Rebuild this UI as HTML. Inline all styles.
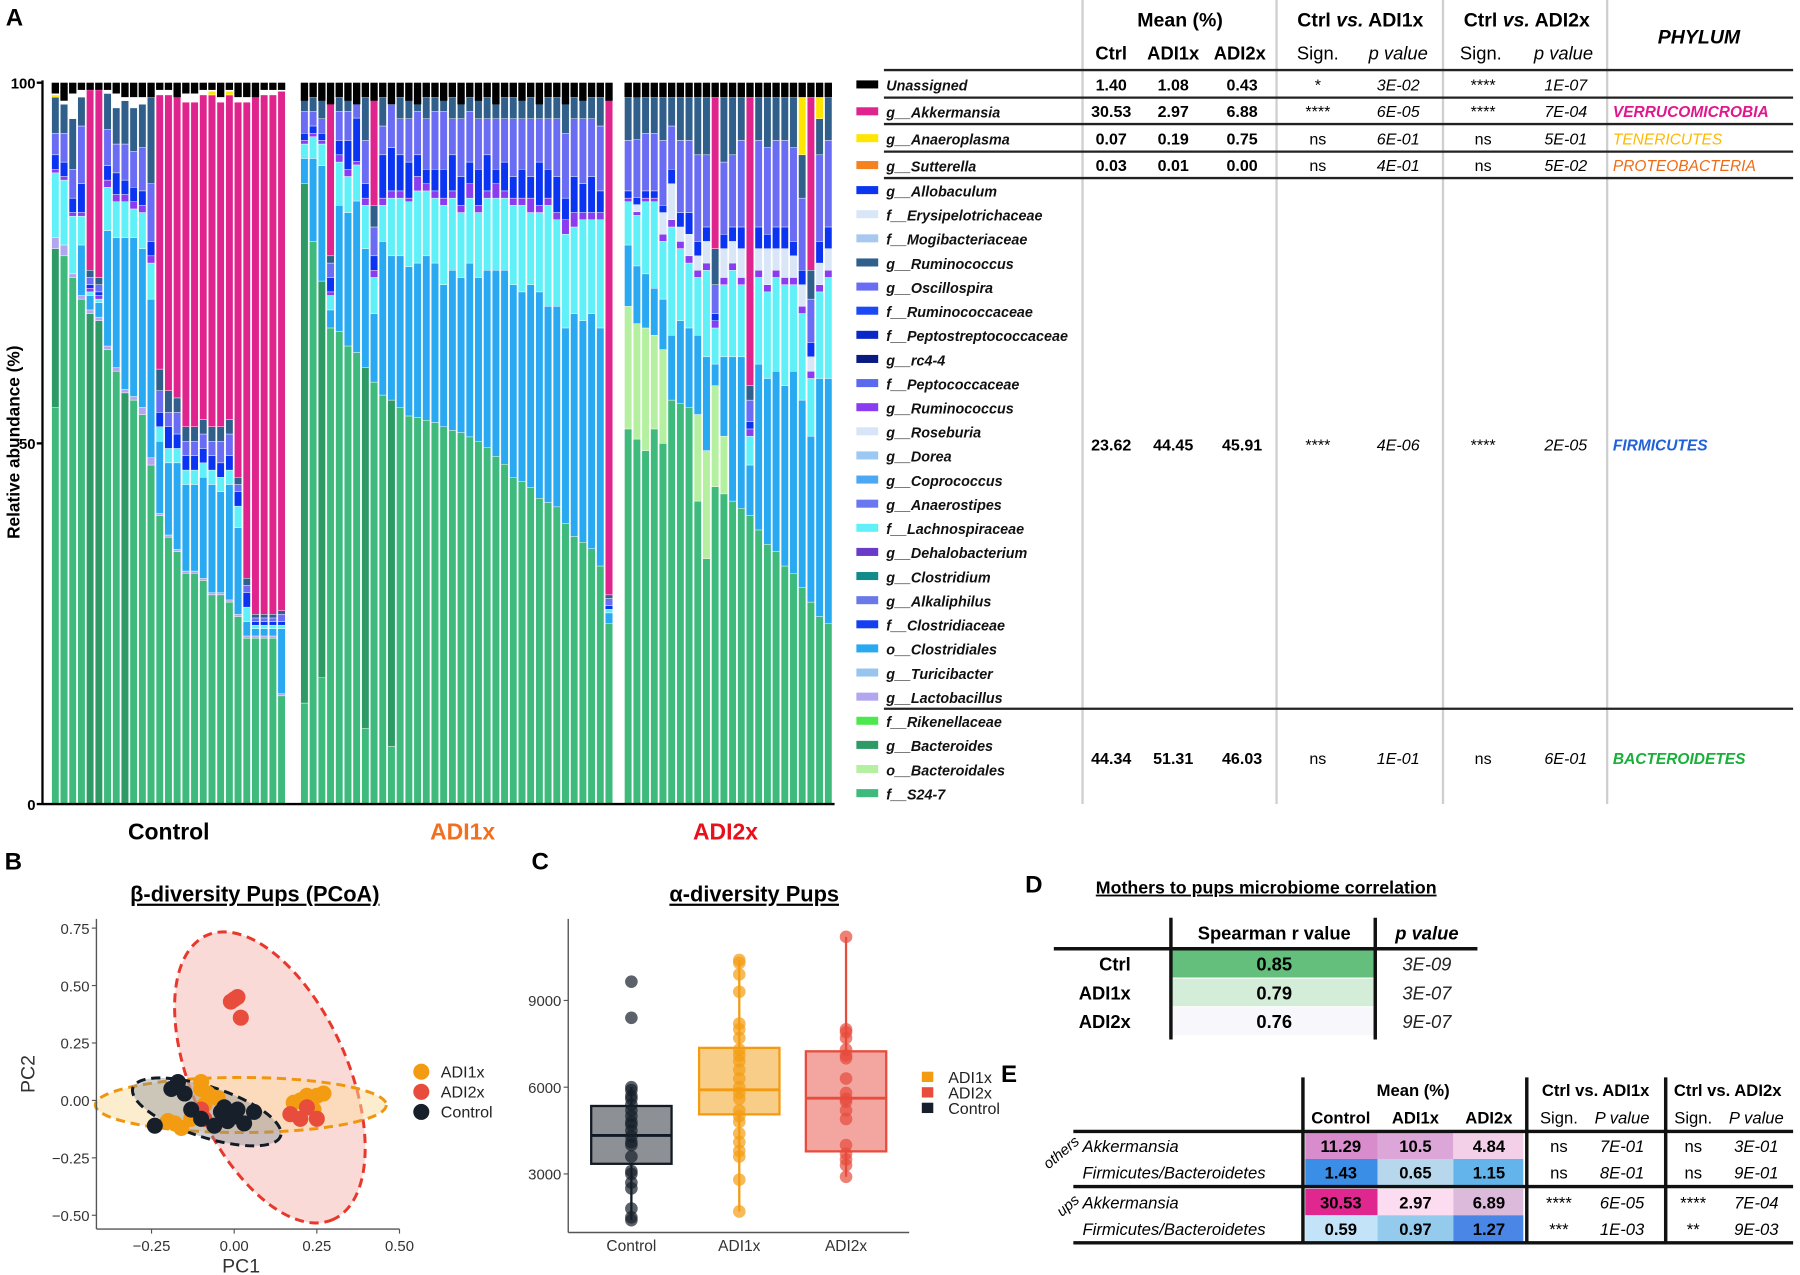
<!DOCTYPE html>
<html><head><meta charset="utf-8">
<style>
html,body{margin:0;padding:0;background:#fff;}
svg{display:block;font-family:"Liberation Sans",sans-serif;}
</style></head>
<body>
<svg id="fig" xmlns="http://www.w3.org/2000/svg" width="1800" height="1275" viewBox="0 0 1568 1110" preserveAspectRatio="none">
<rect x="0" y="0" width="1568" height="1110" fill="#fff"/>
<text x="5" y="22" font-size="21" font-weight="bold">A</text>
<text x="4" y="757" font-size="21" font-weight="bold">B</text>
<text x="463" y="757" font-size="21" font-weight="bold">C</text>
<text x="893" y="777" font-size="21" font-weight="bold">D</text>
<text x="872" y="942" font-size="21" font-weight="bold">E</text>

<g id="barchart"></g>
<text transform="translate(17,385) rotate(-90)" text-anchor="middle" font-size="15" font-weight="bold">Relative abundance (%)</text>
<text x="147" y="731" text-anchor="middle" font-size="20" font-weight="bold">Control</text>
<text x="403" y="731" text-anchor="middle" font-size="20" font-weight="bold" fill="#f07020">ADI1x</text>
<text x="632" y="731" text-anchor="middle" font-size="20" font-weight="bold" fill="#e8101a">ADI2x</text>

<g id="tableA" font-family="Liberation Sans, sans-serif">
  <line x1="943" y1="0" x2="943" y2="700" stroke="#cfcfcf" stroke-width="2"/>
  <line x1="1112" y1="0" x2="1112" y2="700" stroke="#cfcfcf" stroke-width="2"/>
  <line x1="1257" y1="0" x2="1257" y2="700" stroke="#cfcfcf" stroke-width="2"/>
  <line x1="1400" y1="0" x2="1400" y2="700" stroke="#cfcfcf" stroke-width="2"/>
  <g stroke="#222" stroke-width="2">
    <line x1="770" y1="61" x2="1562" y2="61"/>
    <line x1="770" y1="85" x2="1562" y2="85"/>
    <line x1="770" y1="108" x2="1562" y2="108"/>
    <line x1="770" y1="132" x2="1562" y2="132"/>
    <line x1="770" y1="155" x2="1562" y2="155"/>
    <line x1="770" y1="617" x2="1562" y2="617"/>
  </g>
  <text x="1028" y="23" text-anchor="middle" font-size="17" font-weight="bold">Mean (%)</text>
  <text x="968" y="52" text-anchor="middle" font-size="16" font-weight="bold">Ctrl</text>
  <text x="1022" y="52" text-anchor="middle" font-size="16" font-weight="bold">ADI1x</text>
  <text x="1080" y="52" text-anchor="middle" font-size="16" font-weight="bold">ADI2x</text>
  <text x="1185" y="23" text-anchor="middle" font-size="17" font-weight="bold">Ctrl <tspan font-style="italic">vs.</tspan> ADI1x</text>
  <text x="1148" y="52" text-anchor="middle" font-size="16">Sign.</text>
  <text x="1218" y="52" text-anchor="middle" font-size="16" font-style="italic">p value</text>
  <text x="1330" y="23" text-anchor="middle" font-size="17" font-weight="bold">Ctrl <tspan font-style="italic">vs.</tspan> ADI2x</text>
  <text x="1290" y="52" text-anchor="middle" font-size="16">Sign.</text>
  <text x="1362" y="52" text-anchor="middle" font-size="16" font-style="italic">p value</text>
  <text x="1480" y="38" text-anchor="middle" font-size="17" font-weight="bold" font-style="italic">PHYLUM</text>
</g>
<g id="legendA"></g>
<g id="rowsA"></g>

<text x="222" y="785" text-anchor="middle" font-size="19" font-weight="bold" text-decoration="underline">β-diversity Pups (PCoA)</text>
<g id="pcoa"></g>

<text x="657" y="785" text-anchor="middle" font-size="19" font-weight="bold" text-decoration="underline">α-diversity Pups</text>
<g id="alpha"></g>

<g id="tableD"></g>
<g id="tableE"></g>
</svg>

<script>
const NS = 'http://www.w3.org/2000/svg';
function mk(tag, attrs, parent, txt) {
  const e = document.createElementNS(NS, tag);
  for (const k in attrs) e.setAttribute(k, attrs[k]);
  if (txt !== undefined) e.textContent = txt;
  parent.appendChild(e);
  return e;
}

/* ================= PANEL A DATA ================= */
const seriesKeys = ['s24','bact','bacto','lacto','clost','lachno','dehalo','erys','allob','osc','rum','akk','anaero'];
const ctrlS24 = [55,76,73,70,0,0,63,60,0,56,54,47,40,37,35,32,32,31,29,29,28,26,23,23,23,23,15];
const ctrlBact = [22,0,0,0,68,67,0,0,57,0,0,0,0,0,0,0,0,0,0,0,0,0,0,0,0,0,0];
const ctrlLacto = [1.5,1.5,0.5,0.5,0.5,0.5,0.5,0.5,0.5,0.5,1,1,0.3,0.3,0.3,0.3,0.3,0.3,0.3,0.3,0.3,0.3,0.3,0.3,0.3,0.3,0.3];
const ctrlClost = [0,0,0,7,2,2,16,18,21,22,22,22,10,10,12,12,12,14,15,14,16,12,2,1,1,1,9];
const ctrlLachno = [9,9,8,4,0.5,0.5,6,5,5,4,5,5,2,2,2,2,2,2,2,2,2,3,2,0.5,0.5,0.5,0.5];
const ctrlDehalo = [0.5,0.5,0.5,0.5,0.5,0.5,1,1,1,1,1,1,0,0,0,0,0,0,0,0,0,0,0,0,0,0,0];
const ctrlAllob = [2,2,2,4,0.5,0.5,2,3,2,2,2,2,2,3,2,2,2,2,2,2,2,2,2,0.5,0.5,0.5,0.5];
const ctrlOsc = [3,4,4,8,1,1,5,4,5,5,6,8,3,2,3,2,2,2,2,3,3,1,1,0.5,0.5,0.5,1];
const ctrlRum = [5,4,7,4,1,1,5,5,6,6,6,12,3,3,2,2,2,2,2,2,2,1,1,0.5,0.5,0.5,0.5];
const ctrlAkk = [0,0,0,0,25,26,0,0,0,0,0,0,38,41,42,45,45,45,46,45,45,52,66,72,72,72,72];
const ctrlAnaero = [0.3,0,0,0,0,0,0,0,0,0,0,0,0,0,0,0,0,0,0.5,0,0.5,0,0,0,0,0,0];
const ctrlUnass = [1.5,2.5,1.5,1,1,1,1,1.5,2,2,2,2,1,1,2,1.5,1.5,1,1,2,1,2,2,2,1,1,1];

const adi1S24 = [14,78,17.5,66,65.5,63.5,62.6,10.5,58.5,56.7,8,55,53.8,53.6,53.2,52.9,52.3,51.8,51.5,50.9,50.3,49.4,48.2,47.1,45.3,44.7,43.9,42.4,41.8,41.2,38.9,37.1,36.3,35.4,33,25];
const adi1Bact = [72,0,55,0,0,0,0,50,0,0,48,0,0,0,0,0,0,0,0,0,0,0,0,0,0,0,0,0,0,0,0,0,0,0,0,0];
const adi1Clost = [3.5,11.5,16,2.5,17.5,18.5,21,16.5,9.5,21.3,20,21,20.7,21.4,22.8,22.1,19.7,22.2,21.5,24.1,22.7,24.6,25.8,26.9,26.7,26.3,28.1,28.6,27.2,27.8,27.1,30.9,30.7,32.6,33,1.5];
const adi1Lachno = [2,3,3,2,6,5,5,6,5,5,8,8,9,10,9,9,11,10,9,9,9,10,10,10,11,12,10,11,14,12,13,12,14,13,15,0.5];
const adi1Dehalo = [0.5,0.5,0.5,0.5,1,1,0.5,1,1,1,1,1,0.5,2,1,1,1,1,1,2,1,1,2,1,1,1,2,1,1,1,2,2,1,1,1,0];
const adi1Allob = [1,1,1,2,2,4,6,2,2,6,6,5,5,3,2,3,4,5,4,3,5,5,2,4,3,4,3,6,4,5,3,5,4,5,3,0.5];
const adi1Osc = [3,2,2,2,4,4,2,6,4,4,6,5,6,6,7,8,8,5,8,7,7,5,7,6,8,7,8,6,7,8,9,8,9,8,9,1];
const adi1Rum = [2,2,3,1,2,2,1,6,3,4,1,3,3,2,3,2,2,3,3,2,3,3,3,3,3,3,3,3,3,3,5,3,3,3,4,0.5];
const adi1Akk = [0,0,0,22,0,0,0,0,15,0,0,0,0,0,0,0,0,0,0,0,0,0,0,0,0,0,0,0,0,0,0,0,0,0,0,69];
const adi1Anaero = [0,0,0,0,0,0,0,0,1,0,1,0,0,1,0,0,0,0,0,0,0,0,0,0,0,0,0,0,0,0,0,0,1,0,0,0];
const adi1Unass = [2.5,2,2.5,3,2,2.5,3,2,2.5,2,3,2,2.5,3,2,2,2.5,2,3,2,2.5,2,3,2,2,2.5,2,3,2,2,3,2,2.5,2,2,2.5];

const adi2S24 = [52,50.6,49,52,50,56,55.5,55,42,34,44,43,42,41,40,38,36,35,33,32,30,28,26,25];
const adi2Bacto = [17,16,17,13,13,0,0,0,12,15,14,8,0,0,0,0,0,0,0,0,0,0,0,0];
const adi2Clost = [8.5,8,7.5,6.5,7,9,11.5,11,11,13,3,11,20,21,7,23,23,25,25,28,26,23,33,34];
const adi2Lachno = [6,7,10,12,8,15,10,9,8,12,5,10,12,10,4,12,12,13,14,12,12,8,12,14];
const adi2Dehalo = [0.5,0.5,0.5,0.5,1,1,1,1,1,1,1,1,1,1,1,1,1,1,1,1,1,1,1,1];
const adi2Erys = [0,1,0,0,3,5,2,3,2,3,0,4,3,4,0,3,5,3,4,3,3,2,3,3];
const adi2Allob = [1,1,1,1,1,2,2,3,2,2,1,2,2,3,1,3,2,3,3,2,2,2,3,3];
const adi2Osc = [7,8,8,8,9,6,10,10,12,10,4,10,10,12,3,12,12,12,12,13,10,6,12,12];
const adi2Rum = [6,6,5,5,6,4,6,6,8,8,5,9,8,6,2,6,7,6,6,7,6,4,5,6];
const adi2Akk = [0,0,0,0,0,0,0,0,0,0,21,0,0,0,40,0,0,0,0,0,0,24,0,0];
const adi2Anaero = [0,0,0,0,0,0,0,0,0,0,0,0,0,0,0,0,0,0,0,0,8,0,3,0];
const adi2Unass = [2,2,2,2,2,2,2,2,2,2,2,2,2,2,2,2,2,2,2,2,2,2,2,2];

const yTicksA = [0,50,100];
const groupNames = ['control','adi1x','adi2x'];

const seriesColor = {s24:'#3dba7c',bact:'#2e9a66',bacto:'#b4f0a0',lacto:'#b2a6ef',clost:'#29a9f2',lachno:'#60f0f8',dehalo:'#8b3cf0',erys:'#d8e6f8',allob:'#0b33f2',osc:'#6a6cf4',rum:'#2f5f8a',akk:'#e0248e',anaero:'#ffe500',unass:'#000000'};
const groupStart = [45, 262, 544];
const pitch = 7.58, barW = 6.4;
function yA(v){ return 700 - v*6.28; }

const groups = [
  {s24:ctrlS24,bact:ctrlBact,lacto:ctrlLacto,clost:ctrlClost,lachno:ctrlLachno,dehalo:ctrlDehalo,allob:ctrlAllob,osc:ctrlOsc,rum:ctrlRum,akk:ctrlAkk,anaero:ctrlAnaero,unass:ctrlUnass},
  {s24:adi1S24,bact:adi1Bact,clost:adi1Clost,lachno:adi1Lachno,dehalo:adi1Dehalo,allob:adi1Allob,osc:adi1Osc,rum:adi1Rum,akk:adi1Akk,anaero:adi1Anaero,unass:adi1Unass},
  {s24:adi2S24,bacto:adi2Bacto,clost:adi2Clost,lachno:adi2Lachno,dehalo:adi2Dehalo,erys:adi2Erys,allob:adi2Allob,osc:adi2Osc,rum:adi2Rum,akk:adi2Akk,anaero:adi2Anaero,unass:adi2Unass}
];

const bc = document.getElementById('barchart');
groups.forEach((g, gi) => {
  const n = g.s24.length;
  for (let i = 0; i < n; i++) {
    const x = groupStart[gi] + i*pitch;
    const barG = mk('g', {}, bc);
    
    
    let cum = 0;
    seriesKeys.forEach(k => {
      const arr = g[k];
      const v = arr ? arr[i] : 0;
      if (!v) return;
      const top = Math.min(cum + v, 100);
      const r = mk('rect', {x:x, y:yA(top), width:barW, height:Math.max(0, yA(cum)-yA(top)), fill:seriesColor[k], stroke:'#fff', 'stroke-width':0.35}, barG);
      
      
      cum = top;
    });
    const u = g.unass[i];
    const ur = mk('rect', {x:x, y:yA(100), width:barW, height:yA(100-u)-yA(100), fill:'#000'}, barG);
    
    
  }
});
const axA = mk('g', {}, bc);


mk('line', {x1:37, y1:yA(100)-2, x2:37, y2:yA(0), stroke:'#000', 'stroke-width':2}, axA);
mk('line', {x1:37, y1:yA(0), x2:727, y2:yA(0), stroke:'#000', 'stroke-width':2}, axA);
yTicksA.forEach(t => {
  mk('line', {x1:32, y1:yA(t), x2:37, y2:yA(t), stroke:'#000', 'stroke-width':2}, axA);
  const tl = mk('text', {x:31, y:yA(t)+5, 'text-anchor':'end', 'font-size':13, 'font-weight':'bold'}, axA, String(t));
  
  
});

const legendLabels = ['Unassigned','g__Akkermansia','g__Anaeroplasma','g__Sutterella','g__Allobaculum','f__Erysipelotrichaceae','f__Mogibacteriaceae','g__Ruminococcus','g__Oscillospira','f__Ruminococcaceae','f__Peptostreptococcaceae','g__rc4-4','f__Peptococcaceae','g__Ruminococcus','g__Roseburia','g__Dorea','g__Coprococcus','g__Anaerostipes','f__Lachnospiraceae','g__Dehalobacterium','g__Clostridium','g__Alkaliphilus','f__Clostridiaceae','o__Clostridiales','g__Turicibacter','g__Lactobacillus','f__Rikenellaceae','g__Bacteroides','o__Bacteroidales','f__S24-7'];
const legendColors = ['#000000','#e0248e','#ffe500','#f5821f','#0b36f0','#d8e6f8','#a8c8f0','#2f5f8a','#6a6cf4','#1a4af5','#0a28c8','#0a1a80','#5a6af0','#8a3cf0','#d8e4f8','#9cc8f4','#4aa8f4','#6a78f0','#60f0f8','#6a3ac8','#118a8a','#6a78e8','#1440f0','#29a9f2','#98c4ee','#b2a6ef','#4de84d','#2e9a66','#b4f0a0','#3dba7c'];
const lg = document.getElementById('legendA');
legendLabels.forEach((lab, i) => {
  const y = i < 4 ? 74 + 23.4*i : 166 + 21*(i-4);
  const e = mk('g', {}, lg);
  
  
  mk('rect', {x:746, y:y-4, width:19, height:7, fill:legendColors[i]}, e);
  mk('text', {x:772, y:y+5, 'font-size':12.5, 'font-weight':'bold', 'font-style':'italic', fill:'#111'}, e, lab);
});

const rowLabels = ['Unassigned','Akkermansia','Anaeroplasma','Sutterella','Firmicutes','Bacteroidetes'];
const rowY = [74, 97, 121, 144, 387, 660];
const meanCtrl = ['1.40','30.53','0.07','0.03','23.62','44.34'];
const meanAdi1 = ['1.08','2.97','0.19','0.01','44.45','51.31'];
const meanAdi2 = ['0.43','6.88','0.75','0.00','45.91','46.03'];
const sign1 = ['*','****','ns','ns','****','ns'];
const pval1 = ['3E-02','6E-05','6E-01','4E-01','4E-06','1E-01'];
const sign2 = ['****','****','ns','ns','****','ns'];
const pval2 = ['1E-07','7E-04','5E-01','5E-02','2E-05','6E-01'];
const phylum = ['','VERRUCOMICROBIA','TENERICUTES','PROTEOBACTERIA','FIRMICUTES','BACTEROIDETES'];
const phylumColor = ['#000','#e0178e','#ffb800','#f06a14','#2060d8','#18b038'];
const rows = document.getElementById('rowsA');
rowLabels.forEach((lab, i) => {
  const y = rowY[i] + 5;
  const r = mk('g', {'font-size':14}, rows);
  
  
  mk('text', {x:968, y:y, 'text-anchor':'middle', 'font-weight':'bold'}, r, meanCtrl[i]);
  mk('text', {x:1022, y:y, 'text-anchor':'middle', 'font-weight':'bold'}, r, meanAdi1[i]);
  mk('text', {x:1082, y:y, 'text-anchor':'middle', 'font-weight':'bold'}, r, meanAdi2[i]);
  mk('text', {x:1148, y:y, 'text-anchor':'middle'}, r, sign1[i]);
  mk('text', {x:1218, y:y, 'text-anchor':'middle', 'font-style':'italic'}, r, pval1[i]);
  mk('text', {x:1292, y:y, 'text-anchor':'middle'}, r, sign2[i]);
  mk('text', {x:1364, y:y, 'text-anchor':'middle', 'font-style':'italic'}, r, pval2[i]);
  if (phylum[i]) mk('text', {x:1405, y:y, 'font-style':'italic', 'font-weight': (i===2||i===3)?'normal':'bold', fill:phylumColor[i], 'font-size':13.5}, r, phylum[i]);
});

/* ================= PANEL B ================= */
const pcoaTicksX = [-0.25,0,0.25,0.5];
const pcoaTicksY = [-0.5,-0.25,0,0.25,0.5,0.75];
const adi1xPC1 = [0.20,0.22,0.25,0.27,0.24,0.18,-0.10,-0.08,-0.05,-0.18,-0.20,-0.16,-0.13,-0.12,-0.09,-0.10];
const adi1xPC2 = [0.00,0.02,0.02,0.03,-0.04,-0.01,0.08,0.03,0.01,-0.10,-0.09,-0.12,-0.08,-0.05,-0.02,0.05];
const adi2xPC1 = [0.00,0.01,-0.01,0.02,0.17,0.20,0.25,0.22,-0.09,-0.10];
const adi2xPC2 = [0.44,0.45,0.43,0.36,-0.06,-0.08,-0.08,-0.03,-0.08,-0.04];
const controlPC1 = [-0.17,-0.19,-0.15,-0.13,-0.10,-0.24,-0.04,-0.02,0.00,0.03,0.06,-0.06,0.01,-0.03];
const controlPC2 = [0.08,0.05,0.03,-0.04,-0.08,-0.11,-0.05,-0.09,-0.07,-0.10,-0.05,-0.11,-0.04,-0.03];
const ellCx = [0.02, 0.108, -0.083];
const ellCy = [-0.02, 0.10, -0.05];
const ellRx = [0.44, 0.47, 0.235];
const ellRy = [0.12, 0.34, 0.11];
const ellAngle = [0, 66, 18];

function xB(v){ return 204 + v*288; }
function yB(v){ return 958 - v*200; }
const pc = document.getElementById('pcoa');
const pcStroke = ['#f0960e','#e8382c','#111a25'];
const pcFill = ['rgba(252,220,160,0.5)','rgba(240,150,140,0.35)','rgba(130,140,150,0.4)'];
const ellNames = ['ellipse-adi1x','ellipse-adi2x','ellipse-control'];
[1,0,2].forEach(i => {
  const e = mk('ellipse', {cx:0, cy:0, rx:ellRx[i]*288, ry:ellRy[i]*200, fill:pcFill[i], stroke:pcStroke[i], 'stroke-width':2.6, 'stroke-dasharray':'8,5', transform:'translate('+xB(ellCx[i])+','+yB(ellCy[i])+') rotate('+ellAngle[i]+')'}, pc);
  
  
});
const ptSets = [[adi1xPC1,adi1xPC2,'#f39c12','adi1x'],[adi2xPC1,adi2xPC2,'#e74c3c','adi2x'],[controlPC1,controlPC2,'#17202a','control']];
ptSets.forEach(s => {
  s[0].forEach((v, j) => {
    const c = mk('circle', {cx:xB(v), cy:yB(s[1][j]), r:7, fill:s[2]}, pc);
    
    
  });
});
mk('line', {x1:84, y1:800, x2:84, y2:1070, stroke:'#555', 'stroke-width':1.2}, pc);
mk('line', {x1:84, y1:1070, x2:348, y2:1070, stroke:'#555', 'stroke-width':1.2}, pc);
pcoaTicksX.forEach(t => {
  mk('line', {x1:xB(t), y1:1070, x2:xB(t), y2:1074, stroke:'#555'}, pc);
  const tl = mk('text', {x:xB(t), y:1089, 'text-anchor':'middle', 'font-size':13, fill:'#333'}, pc, t.toFixed(2).replace('-','−'));
  
  
});
pcoaTicksY.forEach(t => {
  mk('line', {x1:80, y1:yB(t), x2:84, y2:yB(t), stroke:'#555'}, pc);
  const tl = mk('text', {x:78, y:yB(t)+5, 'text-anchor':'end', 'font-size':13, fill:'#333'}, pc, t.toFixed(2).replace('-','−'));
  
  
});
const pc1 = mk('text', {x:210, y:1108, 'text-anchor':'middle', 'font-size':17, fill:'#333'}, pc, 'PC1');


const pc2 = mk('text', {transform:'translate(30,935) rotate(-90)', 'text-anchor':'middle', 'font-size':17, fill:'#333'}, pc, 'PC2');


const legB = [['ADI1x','#f39c12'],['ADI2x','#e74c3c'],['Control','#17202a']];
legB.forEach((l, i) => {
  const g = mk('g', {}, pc);
  
  
  mk('circle', {cx:367, cy:933+17.5*i, r:7, fill:l[1]}, g);
  mk('text', {x:384, y:938+17.5*i, 'font-size':14, fill:'#222'}, g, l[0]);
});

/* ================= PANEL C ================= */
const alphaCats = ['Control','ADI1x','ADI2x'];
const alphaTicks = [3000,6000,9000];
const boxQ1 = [3350,5060,3780];
const boxMed = [4330,5910,5620];
const boxQ3 = [5350,7360,7240];
const whiskLo = [1400,1700,2900];
const whiskHi = [6000,10400,11200];
const ctrlAlpha = [1400,1500,1800,2500,2700,3000,3100,3600,4000,4100,4300,4500,4700,4800,5000,5200,5400,5600,5700,5900,6000,8400,9650];
const adi1Alpha = [1700,2800,3600,3800,4100,4400,4800,5000,5200,5600,5800,6000,6300,6600,6900,7100,7300,7700,8000,8200,9300,9900,10300,10400];
const adi2Alpha = [2900,3300,3500,3700,4000,4900,5200,5500,5600,5800,6300,7000,7100,7300,7700,7900,8000,11200];
function yC(v){ return 1022 - (v-3000)*0.02517; }
const catX = [550,644,737];
const al = document.getElementById('alpha');
const boxFill = ['#8d9196','#f8cd88','#f3a6a0'];
const boxStroke = ['#111a25','#f39c12','#e74c3c'];
const ptFill = ['rgba(23,32,42,0.7)','rgba(243,156,18,0.7)','rgba(231,76,60,0.7)'];
const alphaPts = [ctrlAlpha, adi1Alpha, adi2Alpha];
alphaCats.forEach((c, i) => {
  const g = mk('g', {}, al);
  
  
  mk('line', {x1:catX[i], y1:yC(whiskLo[i]), x2:catX[i], y2:yC(whiskHi[i]), stroke:boxStroke[i], 'stroke-width':2}, g);
  mk('rect', {x:catX[i]-35, y:yC(boxQ3[i]), width:70, height:yC(boxQ1[i])-yC(boxQ3[i]), fill:boxFill[i], stroke:boxStroke[i], 'stroke-width':2}, g);
  mk('line', {x1:catX[i]-35, y1:yC(boxMed[i]), x2:catX[i]+35, y2:yC(boxMed[i]), stroke:boxStroke[i], 'stroke-width':2.5}, g);
  alphaPts[i].forEach(v => {
    const p = mk('circle', {cx:catX[i], cy:yC(v), r:5.5, fill:ptFill[i]}, g);
    
    
  });
  const tl = mk('text', {x:catX[i], y:1089, 'text-anchor':'middle', 'font-size':13.5, fill:'#333'}, al, c);
  
  
});
mk('line', {x1:495, y1:800, x2:495, y2:1073, stroke:'#555', 'stroke-width':1.2}, al);
mk('line', {x1:495, y1:1073, x2:792, y2:1073, stroke:'#555', 'stroke-width':1.2}, al);
alphaTicks.forEach(t => {
  mk('line', {x1:491, y1:yC(t), x2:495, y2:yC(t), stroke:'#555'}, al);
  const tl = mk('text', {x:489, y:yC(t)+5, 'text-anchor':'end', 'font-size':13, fill:'#333'}, al, String(t));
  
  
});
const legC = [['ADI1x','#f39c12'],['ADI2x','#e74c3c'],['Control','#17202a']];
legC.forEach((l, i) => {
  const g = mk('g', {}, al);
  
  
  mk('rect', {x:803, y:933+13.5*i, width:10, height:9, fill:l[1]}, g);
  mk('text', {x:826, y:943+13.5*i, 'font-size':14, fill:'#222'}, g, l[0]);
});

/* ================= PANEL D ================= */
const dRows = ['Ctrl','ADI1x','ADI2x'];
const dR = ['0.85','0.79','0.76'];
const dP = ['3E-09','3E-07','9E-07'];
const dFill = ['#63bf7b','#d4edd9','#f8f8fc'];
const td = document.getElementById('tableD');
const dTitle = mk('text', {x:1103, y:778, 'text-anchor':'middle', 'font-size':15.5, 'font-weight':'bold', 'text-decoration':'underline'}, td, 'Mothers to pups microbiome correlation');


dRows.forEach((r, i) => {
  const y = 827 + 25*i;
  const g = mk('g', {}, td);
  
  
  mk('rect', {x:1021, y:y, width:176, height:24, fill:dFill[i]}, g);
  mk('text', {x:985, y:y+18, 'text-anchor':'end', 'font-size':16, 'font-weight':'bold'}, g, r);
  mk('text', {x:1110, y:y+18, 'text-anchor':'middle', 'font-size':16, 'font-weight':'bold'}, g, dR[i]);
  mk('text', {x:1243, y:y+18, 'text-anchor':'middle', 'font-size':16, 'font-style':'italic', fill:'#222'}, g, dP[i]);
});
mk('text', {x:1110, y:818, 'text-anchor':'middle', 'font-size':16, 'font-weight':'bold'}, td, 'Spearman r value');
mk('text', {x:1243, y:818, 'text-anchor':'middle', 'font-size':16, 'font-weight':'bold', 'font-style':'italic'}, td, 'p value');
mk('line', {x1:918, y1:826, x2:1287, y2:826, stroke:'#111', 'stroke-width':3}, td);
mk('line', {x1:1020, y1:799, x2:1020, y2:905, stroke:'#111', 'stroke-width':3}, td);
mk('line', {x1:1198, y1:799, x2:1198, y2:905, stroke:'#111', 'stroke-width':3}, td);

/* ================= PANEL E ================= */
const eLabels = ['Akkermansia','Firmicutes/Bacteroidetes','Akkermansia','Firmicutes/Bacteroidetes'];
const eCtrl = ['11.29','1.43','30.53','0.59'];
const eAdi1 = ['10.5','0.65','2.97','0.97'];
const eAdi2 = ['4.84','1.15','6.89','1.27'];
const eSign1 = ['ns','ns','****','***'];
const eP1 = ['7E-01','8E-01','6E-05','1E-03'];
const eSign2 = ['ns','ns','****','**'];
const eP2 = ['3E-01','9E-01','7E-04','9E-03'];
const eFillCtrl = ['#d98ccb','#3a8ee6','#e0278f','#c3e4f8'];
const eFillAdi1 = ['#dda6d8','#b7d8ec','#fcdcf0','#94cbec'];
const eFillAdi2 = ['#f4d0e8','#62b4ea','#dcbadb','#4a86e6'];
const te = document.getElementById('tableE');
const eRowY = [986, 1009, 1035, 1058];
eLabels.forEach((l, i) => {
  const y = eRowY[i];
  const g = mk('g', {'font-size':14.5}, te);
  
  
  mk('rect', {x:1137, y:y, width:63, height:23, fill:eFillCtrl[i]}, g);
  mk('rect', {x:1200, y:y, width:66, height:23, fill:eFillAdi1[i]}, g);
  mk('rect', {x:1266, y:y, width:61, height:23, fill:eFillAdi2[i]}, g);
  mk('text', {x:943, y:y+17, 'font-style':'italic'}, g, l);
  mk('text', {x:1168, y:y+17, 'text-anchor':'middle', 'font-weight':'bold'}, g, eCtrl[i]);
  mk('text', {x:1233, y:y+17, 'text-anchor':'middle', 'font-weight':'bold'}, g, eAdi1[i]);
  mk('text', {x:1297, y:y+17, 'text-anchor':'middle', 'font-weight':'bold'}, g, eAdi2[i]);
  mk('text', {x:1358, y:y+17, 'text-anchor':'middle'}, g, eSign1[i]);
  mk('text', {x:1413, y:y+17, 'text-anchor':'middle', 'font-style':'italic'}, g, eP1[i]);
  mk('text', {x:1475, y:y+17, 'text-anchor':'middle'}, g, eSign2[i]);
  mk('text', {x:1530, y:y+17, 'text-anchor':'middle', 'font-style':'italic'}, g, eP2[i]);
});
const eh = mk('g', {'font-size':14.5, 'text-anchor':'middle'}, te);


mk('text', {x:1231, y:954, 'font-weight':'bold'}, eh, 'Mean (%)');
mk('text', {x:1390, y:954, 'font-weight':'bold'}, eh, 'Ctrl vs. ADI1x');
mk('text', {x:1505, y:954, 'font-weight':'bold'}, eh, 'Ctrl vs. ADI2x');
mk('text', {x:1168, y:978, 'font-weight':'bold'}, eh, 'Control');
mk('text', {x:1233, y:978, 'font-weight':'bold'}, eh, 'ADI1x');
mk('text', {x:1297, y:978, 'font-weight':'bold'}, eh, 'ADI2x');
mk('text', {x:1358, y:978}, eh, 'Sign.');
mk('text', {x:1413, y:978, 'font-style':'italic'}, eh, 'P value');
mk('text', {x:1475, y:978}, eh, 'Sign.');
mk('text', {x:1530, y:978, 'font-style':'italic'}, eh, 'P value');
const gm = mk('text', {transform:'translate(941,995) rotate(-40)', 'font-size':13, 'font-style':'italic', 'text-anchor':'end'}, te, 'others');


const gp = mk('text', {transform:'translate(941,1046) rotate(-40)', 'font-size':13, 'font-style':'italic', 'text-anchor':'end'}, te, 'ups');


mk('line', {x1:935, y1:985, x2:1562, y2:985, stroke:'#111', 'stroke-width':3}, te);
mk('line', {x1:935, y1:1033, x2:1562, y2:1033, stroke:'#111', 'stroke-width':3}, te);
mk('line', {x1:935, y1:1082, x2:1562, y2:1082, stroke:'#111', 'stroke-width':3}, te);
[1135,1330,1451].forEach(x => mk('line', {x1:x, y1:938, x2:x, y2:1082, stroke:'#111', 'stroke-width':3}, te));
</script>
</body></html>
